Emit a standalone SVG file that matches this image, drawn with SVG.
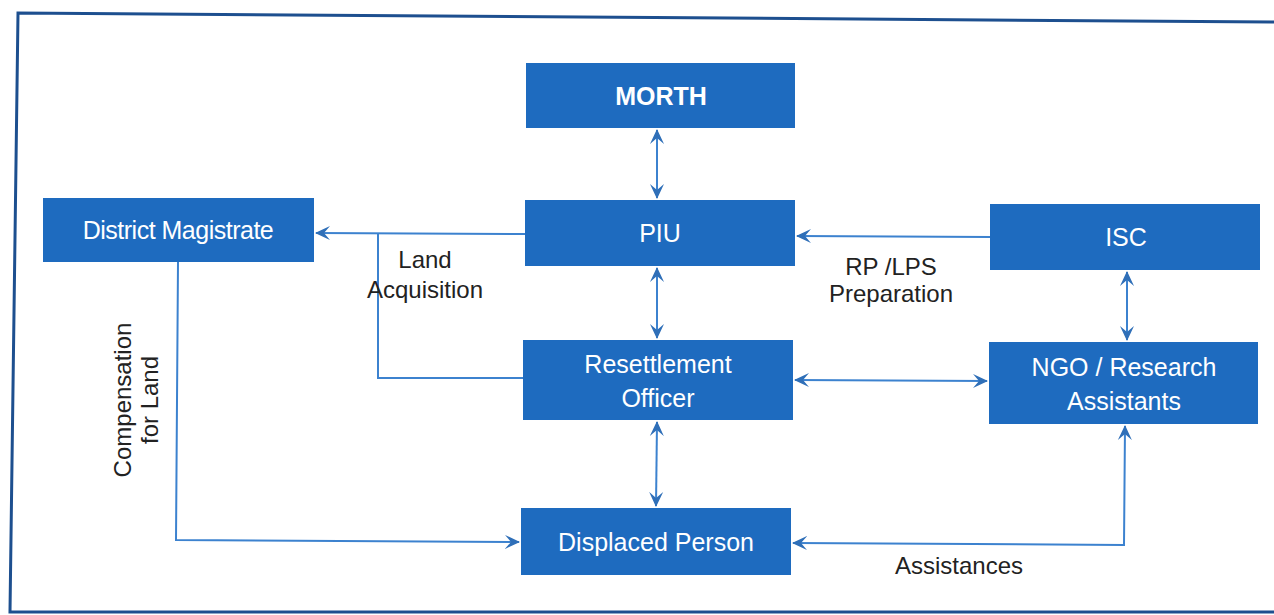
<svg xmlns="http://www.w3.org/2000/svg" width="1274" height="615" viewBox="0 0 1274 615">
<style>
.box{fill:#1e6bbf;}
.lbl{font-family:"Liberation Sans",Arial,sans-serif;font-size:25px;fill:#ffffff;text-anchor:middle;}
.cap{font-family:"Liberation Sans",Arial,sans-serif;font-size:24px;fill:#222222;text-anchor:middle;}
.ln{fill:none;stroke:#3c82cf;stroke-width:2;}
</style>
<defs>
<marker id="ah" viewBox="0 0 16 16" refX="14" refY="8" markerWidth="16" markerHeight="16" markerUnits="userSpaceOnUse" orient="auto-start-reverse">
<path d="M0,1 L15,8 L0,15 L6,8 Z" fill="#2f6fb8"/>
</marker>
</defs>
<rect width="1274" height="615" fill="#ffffff"/>
<path d="M1274,612 L10,612 L18,13 L1274,22" fill="none" stroke="#1d4f8f" stroke-width="3"/>
<g id="connectors">
<line class="ln" x1="657" y1="130" x2="657" y2="198" marker-start="url(#ah)" marker-end="url(#ah)"/>
<line class="ln" x1="525" y1="234" x2="316" y2="233" marker-end="url(#ah)"/>
<polyline class="ln" points="378,234 378,378 523,378"/>
<line class="ln" x1="990" y1="237" x2="797" y2="236" marker-end="url(#ah)"/>
<line class="ln" x1="1127" y1="272" x2="1127" y2="340" marker-start="url(#ah)" marker-end="url(#ah)"/>
<line class="ln" x1="657" y1="268" x2="657" y2="338" marker-start="url(#ah)" marker-end="url(#ah)"/>
<line class="ln" x1="795" y1="380" x2="987" y2="381" marker-start="url(#ah)" marker-end="url(#ah)"/>
<line class="ln" x1="657" y1="422" x2="656" y2="506" marker-start="url(#ah)" marker-end="url(#ah)"/>
<polyline class="ln" points="178,262 176,540 519,542" marker-end="url(#ah)"/>
<polyline class="ln" points="1125,426 1124,545 793,543" marker-start="url(#ah)" marker-end="url(#ah)"/>
<text class="cap" x="425" y="268">Land</text>
<text class="cap" x="425" y="298">Acquisition</text>
<text class="cap" x="891" y="275">RP /LPS</text>
<text class="cap" x="891" y="302">Preparation</text>
<text class="cap" transform="translate(131,400) rotate(-90)">Compensation</text>
<text class="cap" transform="translate(158,400) rotate(-90)">for Land</text>
<text class="cap" x="959" y="574">Assistances</text>
</g>
<g id="morth"><rect class="box" x="526" y="63" width="269" height="65"/><text class="lbl" x="661" y="105" font-weight="bold">MORTH</text></g>
<g id="piu"><rect class="box" x="525" y="200" width="270" height="66"/><text class="lbl" x="660" y="242">PIU</text></g>
<g id="dm"><rect class="box" x="43" y="198" width="271" height="64"/><text class="lbl" x="178" y="239" letter-spacing="-0.5">District Magistrate</text></g>
<g id="isc"><rect class="box" x="990" y="204" width="270" height="66"/><text class="lbl" x="1126" y="246">ISC</text></g>
<g id="ro"><rect class="box" x="523" y="340" width="270" height="80"/><text class="lbl" x="658" y="373">Resettlement</text><text class="lbl" x="658" y="407">Officer</text></g>
<g id="ngo"><rect class="box" x="989" y="342" width="269" height="82"/><text class="lbl" x="1124" y="376">NGO / Research</text><text class="lbl" x="1124" y="410">Assistants</text></g>
<g id="dp"><rect class="box" x="521" y="508" width="270" height="67"/><text class="lbl" x="656" y="551">Displaced Person</text></g>
</svg>
